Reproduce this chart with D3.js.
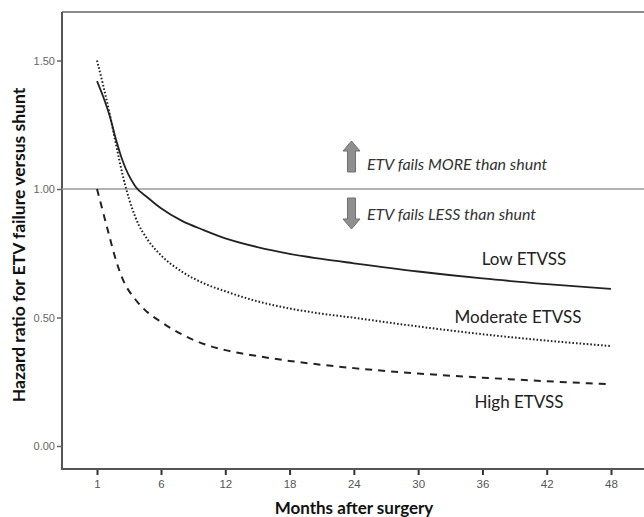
<!DOCTYPE html>
<meta charset="utf-8">
<script src="https://d3js.org/d3.v7.min.js"></script>
<style>
  body { margin: 0; background: #fff; }
  svg { display: block; }
</style>
<div id="chart"></div>
<script>
// months after surgery at which the curves were read
var months = [1, 1.5, 2, 2.5, 3, 4, 5, 6, 8, 10, 12, 15, 18, 21, 24, 30, 36, 42, 48];

// hazard ratio, ETV vs shunt, by ETV success score group
var lowEtvss      = [1.42, 1.357, 1.283, 1.19, 1.11, 1.01, 0.965, 0.925, 0.875, 0.84, 0.808, 0.774, 0.748, 0.728, 0.711, 0.679, 0.652, 0.63, 0.611];
var moderateEtvss = [1.50, 1.40, 1.29, 1.17, 1.055, 0.89, 0.80, 0.742, 0.677, 0.633, 0.602, 0.563, 0.535, 0.515, 0.499, 0.465, 0.435, 0.41, 0.389];
var highEtvss     = [1.00, 0.905, 0.81, 0.72, 0.65, 0.57, 0.518, 0.483, 0.433, 0.397, 0.373, 0.35, 0.331, 0.316, 0.303, 0.282, 0.266, 0.252, 0.24];

var seriesNames = ["Low ETVSS", "Moderate ETVSS", "High ETVSS"];
var xTicks = [1, 6, 12, 18, 24, 30, 36, 42, 48];
var yTicks = [0, 0.5, 1.0, 1.5];

var width = 644, height = 517;
var frame = { left: 62, top: 12, right: 650, bottom: 469 };

var svg = d3.select("#chart").append("svg")
    .attr("width", width)
    .attr("height", height);

// the axis is spaced evenly per tick, so 1->6 is stretched like 6->12
var x = d3.scaleLinear().domain([1, 6, 48]).range([97, 161, 611]);
var y = d3.scaleLinear().domain([0, 1.5]).range([446, 60.5]);

// frame
svg.append("line")
    .attr("x1", frame.left).attr("x2", frame.right)
    .attr("y1", frame.top).attr("y2", frame.top)
    .attr("stroke", "#8a8a8a").attr("stroke-width", 2);
svg.append("line")
    .attr("x1", frame.left).attr("x2", frame.left)
    .attr("y1", frame.top).attr("y2", frame.bottom)
    .attr("stroke", "#555").attr("stroke-width", 2);

// reference line at HR = 1
svg.append("line")
    .attr("x1", frame.left).attr("x2", frame.right)
    .attr("y1", y(1)).attr("y2", y(1))
    .attr("stroke", "#9a9a9a").attr("stroke-width", 1.5);

// x axis
var xAxis = svg.append("g")
    .attr("transform", "translate(0," + frame.bottom + ")")
    .call(d3.axisBottom(x).tickValues(xTicks).tickSize(6).tickPadding(5).tickFormat(d3.format("d")));
xAxis.select(".domain").remove();
svg.append("line")
    .attr("x1", frame.left - 1).attr("x2", frame.right)
    .attr("y1", frame.bottom).attr("y2", frame.bottom)
    .attr("stroke", "#555").attr("stroke-width", 2);
xAxis.selectAll(".tick line").attr("stroke", "#333").attr("stroke-width", 2);
xAxis.selectAll(".tick text")
    .attr("fill", "#555")
    .style("font-family", "'Liberation Sans', Arial, sans-serif")
    .style("font-size", "11.5px");

// y axis
var yAxis = svg.append("g")
    .attr("transform", "translate(" + frame.left + ",0)")
    .call(d3.axisLeft(y).tickValues(yTicks).tickSize(5).tickPadding(2).tickFormat(d3.format(".2f")));
yAxis.select(".domain").remove();
yAxis.selectAll(".tick line").attr("stroke", "#666").attr("stroke-width", 1.5);
yAxis.selectAll(".tick text")
    .attr("fill", "#666")
    .style("font-family", "'Liberation Sans', Arial, sans-serif")
    .style("font-size", "11px");

// axis titles
svg.append("text")
    .attr("transform", "translate(25," + 245 + ") rotate(-90)")
    .attr("text-anchor", "middle")
    .style("font-family", "Lato, 'Open Sans', sans-serif")
    .style("font-weight", "bold")
    .style("font-size", "17.5px")
    .attr("fill", "#111")
    .text("Hazard ratio for ETV failure versus shunt");

svg.append("text")
    .attr("x", 354).attr("y", 514)
    .attr("text-anchor", "middle")
    .style("font-family", "Lato, 'Open Sans', sans-serif")
    .style("font-weight", "bold")
    .style("font-size", "17px")
    .attr("fill", "#111")
    .text("Months after surgery");

// curves
var series = [
    { name: seriesNames[0], values: lowEtvss, dash: null, width: 1.8 },
    { name: seriesNames[1], values: moderateEtvss, dash: "1.6,2", width: 2 },
    { name: seriesNames[2], values: highEtvss, dash: "7,6", width: 2 }
];

var line = d3.line()
    .x(function (d) { return x(d[0]); })
    .y(function (d) { return y(d[1]); })
    .curve(d3.curveMonotoneX);

svg.append("g")
    .selectAll("path")
    .data(series)
    .enter().append("path")
    .attr("d", function (s) { return line(months.map(function (m, i) { return [m, s.values[i]]; })); })
    .attr("fill", "none")
    .attr("stroke", "#222")
    .attr("stroke-width", function (s) { return s.width; })
    .attr("stroke-dasharray", function (s) { return s.dash; });

// curve labels
var labelPos = [
    { x: 524, y: 265 },
    { x: 518, y: 323 },
    { x: 519, y: 408 }
];
svg.append("g")
    .selectAll("text")
    .data(series)
    .enter().append("text")
    .attr("x", function (d, i) { return labelPos[i].x; })
    .attr("y", function (d, i) { return labelPos[i].y; })
    .attr("text-anchor", "middle")
    .style("font-family", "Lato, 'Open Sans', sans-serif")
    .style("font-size", "17px")
    .attr("fill", "#222")
    .text(function (d) { return d.name; });

// block arrows + notes
function blockArrow(cx, top, h, up) {
    // head 17 wide, shaft 8 wide
    var hh = 10, hw = 8.5, sw = 4;
    var p = up
        ? [[cx, top], [cx + hw, top + hh], [cx + sw, top + hh], [cx + sw, top + h], [cx - sw, top + h], [cx - sw, top + hh], [cx - hw, top + hh]]
        : [[cx - sw, top], [cx + sw, top], [cx + sw, top + h - hh], [cx + hw, top + h - hh], [cx, top + h], [cx - hw, top + h - hh], [cx - sw, top + h - hh]];
    return "M" + p.map(function (q) { return q.join(","); }).join("L") + "Z";
}

var notes = [
    { text: "ETV fails MORE than shunt", up: true, top: y(1) - 48, base: y(1) - 19 },
    { text: "ETV fails LESS than shunt", up: false, top: y(1) + 9, base: y(1) + 31 }
];
notes.forEach(function (n) {
    svg.append("path")
        .attr("d", blockArrow(351.5, n.top, 31, n.up))
        .attr("fill", "#8f8f8f")
        .attr("stroke", "#6f6f6f")
        .attr("stroke-width", 1);
    svg.append("text")
        .attr("x", 367).attr("y", n.base)
        .style("font-family", "Lato, 'Open Sans', sans-serif")
        .style("font-style", "italic")
        .style("font-size", "16px")
        .attr("fill", "#333")
        .text(n.text);
});
</script>
